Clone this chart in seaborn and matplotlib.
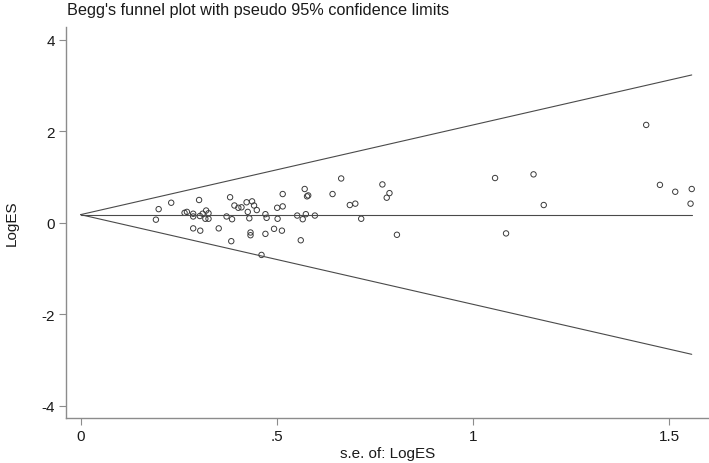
import matplotlib
matplotlib.use("Agg")
import matplotlib.pyplot as plt
import seaborn as sns
import numpy as np
import pandas as pd

# Data
se = [0.192, 0.199, 0.231, 0.265, 0.271, 0.287, 0.287, 0.287, 0.302, 0.304,
      0.311, 0.318, 0.320, 0.326, 0.326, 0.305, 0.352, 0.372, 0.381, 0.384,
      0.386, 0.392, 0.402, 0.410, 0.423, 0.437, 0.442, 0.449, 0.426, 0.430,
      0.433, 0.433, 0.461, 0.471, 0.474, 0.471, 0.493, 0.502, 0.501, 0.513,
      0.515, 0.515, 0.552, 0.561, 0.566, 0.571, 0.574, 0.577, 0.580, 0.597,
      0.642, 0.664, 0.686, 0.700, 0.715, 0.769, 0.780, 0.787, 0.806, 1.056,
      1.084, 1.154, 1.180, 1.441, 1.476, 1.515, 1.557, 1.554]
log_es = [0.07, 0.30, 0.44, 0.22, 0.24, 0.20, 0.14, -0.12, 0.50, 0.15,
          0.20, 0.09, 0.27, 0.21, 0.09, -0.17, -0.12, 0.14, 0.56, -0.40,
          0.08, 0.38, 0.33, 0.34, 0.45, 0.47, 0.38, 0.28, 0.24, 0.10,
          -0.21, -0.27, -0.70, 0.19, 0.11, -0.24, -0.13, 0.09, 0.33, -0.17,
          0.63, 0.36, 0.16, -0.38, 0.08, 0.74, 0.19, 0.58, 0.60, 0.16,
          0.63, 0.97, 0.39, 0.42, 0.09, 0.84, 0.55, 0.65, -0.26, 0.98,
          -0.23, 1.06, 0.39, 2.14, 0.83, 0.68, 0.74, 0.42]
pooled = 0.18
se_range = [0.0, 1.557]
x_ticks = [0, 0.5, 1, 1.5]
x_ticklabels = ["0", ".5", "1", "1.5"]
y_ticks = [-4, -2, 0, 2, 4]
y_ticklabels = ["-4", "-2", "0", "2", "4"]

sns.set_style("white")
plt.rcParams["font.family"] = ["Liberation Sans", "DejaVu Sans"]

fig = plt.figure(figsize=(7.09, 4.64), dpi=100)
ax = fig.add_axes([0.0931, 0.0963, 0.9069, 0.8434])

pts = pd.DataFrame({"se": se, "logES": log_es})
line_se = np.array(se_range)
lines = pd.DataFrame({
    "se": np.concatenate([line_se, line_se, line_se]),
    "val": np.concatenate([pooled + 1.96 * line_se,
                           pooled - 1.96 * line_se,
                           pooled + 0 * line_se]),
    "which": ["upper"] * 2 + ["lower"] * 2 + ["pooled"] * 2,
})

line_col = "#4a4a4a"
sns.lineplot(data=lines, x="se", y="val", units="which", estimator=None,
             color=line_col, linewidth=0.8, ax=ax, legend=False)
sns.scatterplot(data=pts, x="se", y="logES", ax=ax, marker="o",
                facecolors="none", edgecolor="#3a3a3a", linewidth=0.7,
                s=15, legend=False)

ax.set_xlim(-0.037, 1.601)
ax.set_ylim(-4.27, 4.28)
ax.set_xticks(x_ticks)
ax.set_xticklabels(x_ticklabels)
ax.set_yticks(y_ticks)
ax.set_yticklabels(y_ticklabels)

spine_col = "#8c8c8c"
for side in ["top", "right"]:
    ax.spines[side].set_visible(False)
for side in ["left", "bottom"]:
    ax.spines[side].set_color(spine_col)
    ax.spines[side].set_linewidth(1.0)
ax.tick_params(axis="both", direction="out", length=5, width=0.8,
               color=spine_col, labelsize=11, labelcolor="#1a1a1a",
               left=True, bottom=True, pad=3)

ax.set_xlabel("s.e. of: LogES", fontsize=11, color="#1a1a1a", labelpad=2)
ax.set_ylabel("LogES", fontsize=11, color="#1a1a1a")
ax.yaxis.set_label_coords(-0.074, 0.5)
fig.text(67 / 709, 1 - 11 / 464, "Begg's funnel plot with pseudo 95% confidence limits",
         fontsize=11.7, color="#1a1a1a", ha="left", va="center")

fig.savefig("out.png", dpi=100)
